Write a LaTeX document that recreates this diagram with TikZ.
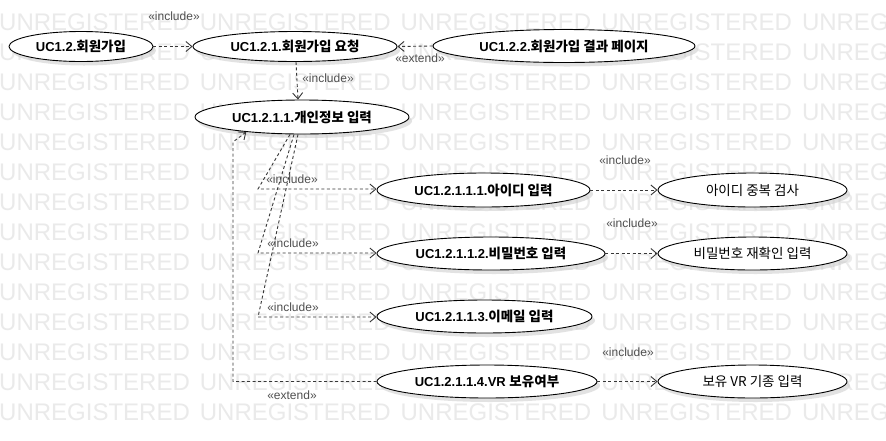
\documentclass[tikz,border=0pt]{standalone}
\usepackage{fontspec}
\setmainfont{Liberation Sans}
\newfontfamily\krfont{Noto Sans CJK KR}
\usetikzlibrary{arrows.meta,shapes.geometric,shadows,calc}
\definecolor{wm}{RGB}{234,234,234}
\definecolor{lbl}{RGB}{80,80,80}
\definecolor{ln}{RGB}{55,55,55}
\newcommand\ko[1]{{\krfont\fontsize{13.5}{15}\selectfont #1}}
\begin{document}
\begin{tikzpicture}[x=1pt,y=-1pt,
  uc/.style={ellipse, draw=black, line width=0.9pt, fill=white, inner sep=0pt,
    font=\fontsize{13}{15}\selectfont\bfseries,
    drop shadow={shadow xshift=3pt, shadow yshift=-4pt, fill=black!22, opacity=0.5}},
  ucplain/.style={uc, font=\fontsize{13}{15}\selectfont},
  dep/.style={draw=ln, line width=0.9pt, dash pattern=on 3pt off 2.5pt,
    -{Straight Barb[length=6pt,width=10pt]}},
  ster/.style={text=lbl, font=\fontsize{12}{14}\selectfont, inner sep=0pt},
  wmark/.style={text=wm, font=\fontsize{24}{24}\selectfont, inner sep=0pt, anchor=west}]
\useasboundingbox (0,0) rectangle (886,440);
\fill[white] (0,0) rectangle (886,440);
% watermark
\foreach \r in {0,...,13} {
  \foreach \c in {0,...,4} {
    \node[wmark] (w\r-\c) at (200.7*\c-1, 22.5+30*\r) {UNREGISTERED};
  }
}
% use cases
\node[uc, minimum width=144pt, minimum height=30pt] (A) at (81,46.5) {UC1.2.\ko{회원가입}};
\node[uc, minimum width=204pt, minimum height=30pt] (B) at (295,46.5) {UC1.2.1.\ko{회원가입 요청}};
\node[uc, minimum width=262pt, minimum height=33pt] (C) at (564,46) {UC1.2.2.\ko{회원가입 결과 페이지}};
\node[uc, minimum width=214pt, minimum height=34pt] (D) at (302,117) {UC1.2.1.1.\ko{개인정보 입력}};
\node[uc, minimum width=213pt, minimum height=34pt] (E) at (483.5,190) {UC1.2.1.1.1.\ko{아이디 입력}};
\node[uc, minimum width=228pt, minimum height=33pt] (F) at (491,253.5) {UC1.2.1.1.2.\ko{비밀번호 입력}};
\node[uc, minimum width=215pt, minimum height=33pt] (G) at (484.5,316.5) {UC1.2.1.1.3.\ko{이메일 입력}};
\node[uc, minimum width=220pt, minimum height=33pt] (H) at (487,381.5) {UC1.2.1.1.4.VR \ko{보유여부}};
\node[ucplain, minimum width=189pt, minimum height=34pt] (I) at (752.5,190) {\ko{아이디 중복 검사}};
\node[ucplain, minimum width=189pt, minimum height=33pt] (J) at (752.5,253.5) {\ko{비밀번호 재확인 입력}};
\node[ucplain, minimum width=189pt, minimum height=33pt] (K) at (752.5,381.5) {\ko{보유 VR 기종 입력}};
% bend points
\coordinate (bE) at (258,189);
\coordinate (bF) at (258,253);
\coordinate (bG) at (258,317);
\coordinate (eH) at (233,381.5);
\coordinate (eT) at (233,142);
% connectors
\draw[dep] (A.east) -- (B.west);
\draw[dep] (C.west) -- (B.east);
\draw[dep] ([xshift=1pt]B.south) -- ([xshift=-4pt]D.north);
\draw[dep] ([xshift=-12pt]D.south) -- (bE) -- (bE -| E.west);
\draw[dep] ([xshift=-8pt]D.south) -- (bF) -- (bF -| F.west);
\draw[dep] ([xshift=-4pt]D.south) -- (bG) -- (bG -| G.west);
\draw[dep] (H.west) -- (eH) -- (eT) -- (D.195);
\draw[dep] (E.east) -- (I.west);
\draw[dep] (F.east) -- (J.west);
\draw[dep] (H.east) -- (K.west);
% stereotypes
\node[ster] (l1) at (174,16) {«include»};
\node[ster] (l2) at (420,58) {«extend»};
\node[ster] (l3) at (328,78) {«include»};
\node[ster] (l4) at (292,179) {«include»};
\node[ster] (l5) at (293,243) {«include»};
\node[ster] (l6) at (293,307) {«include»};
\node[ster] (l7) at (292,395) {«extend»};
\node[ster] (l8) at (625,160) {«include»};
\node[ster] (l9) at (632,223) {«include»};
\node[ster] (l10) at (628,352) {«include»};
\end{tikzpicture}
\end{document}
